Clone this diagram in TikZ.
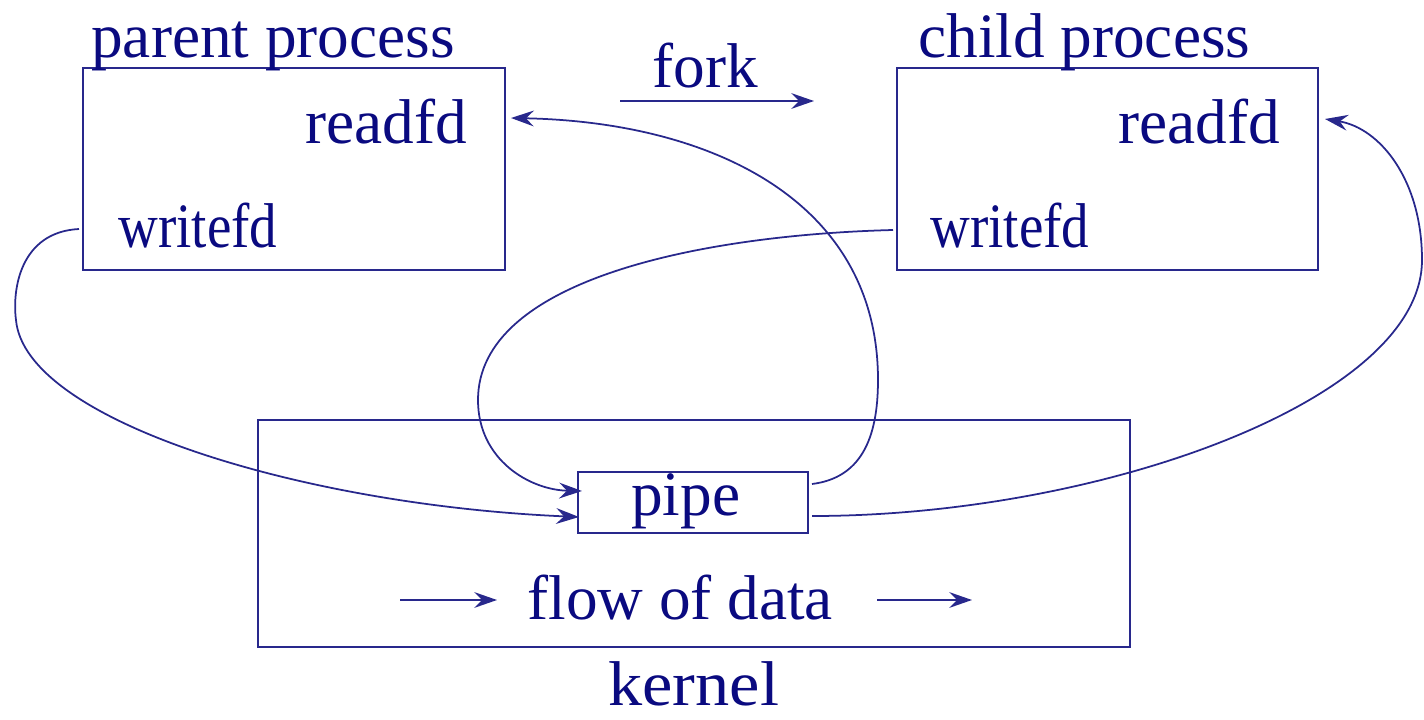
\documentclass[tikz,border=0pt]{standalone}
\usepackage{fontspec}
\setmainfont{Liberation Serif}
\usepackage{xcolor}
\usetikzlibrary{arrows.meta,positioning}
\definecolor{ink}{RGB}{10,10,128}
\definecolor{wire}{RGB}{40,40,140}

\begin{document}
\begin{tikzpicture}[
    x=0.02cm, y=-0.02cm,
    box/.style={draw=wire, line width=1.1pt, inner sep=0pt},
    lbl/.style={text=ink, inner sep=0pt, anchor=base west,
                font=\fontsize{36}{40}\selectfont},
    arrow/.style={-{Stealth[length=13pt,width=9pt,inset=4.5pt]}, draw=wire, line width=1.1pt},
    flow/.style={-{Stealth[length=13pt,width=9pt,inset=4.5pt]}, draw=wire, line width=1pt}
]
\useasboundingbox (0,0) rectangle (1424,720);

% boxes
\node[box, minimum width=8.44cm, minimum height=4.04cm] (parent) at (294,169) {};
\node[box, minimum width=8.42cm, minimum height=4.04cm] (child) at (1107.5,169) {};
\node[box, minimum width=17.44cm, minimum height=4.54cm] (kernel) at (694,533.5) {};
\node[box, minimum width=4.6cm, minimum height=1.22cm] (pipe) at (693,502.5) {};

% texts
\node[lbl] (plabel) at (91,57) {parent process};
\node[lbl] (clabel) at (918,57) {child process};
\node[lbl] (pread) at (305,143) {readfd};
\node[lbl] (pwrite) at (118,247) {\scalebox{0.87}[1]{writefd}};
\node[lbl] (cread) at (1118,143) {readfd};
\node[lbl] (cwrite) at (930,247) {\scalebox{0.87}[1]{writefd}};
\node[lbl] (fork) at (652,87) {fork};
\node[lbl] (pipetext) at (631,515) {pipe};
\node[lbl] (flowtext) at (527,619) {flow of data};
\node[lbl] (klabel) at (608,705) {\scalebox{1.08}[1]{kernel}};

% free ends
\coordinate (forkA) at (620,101);
\coordinate (forkB) at (814,101);
\coordinate (flowA) at (400,600);
\coordinate (flowB) at (497,600);
\coordinate (flowC) at (877,600);
\coordinate (flowD) at (972,600);
\coordinate (pwOut) at (79,229);
\coordinate (cwOut) at (893,230);
\coordinate (prIn) at (511,118);
\coordinate (crIn) at (1325,119);
\coordinate (pipeInA) at (582,491);
\coordinate (pipeInB) at (579,517);
\coordinate (pipeOutA) at (812,484);
\coordinate (pipeOutB) at (812,516);

\draw[arrow] (forkA) -- (forkB);
\draw[arrow] (flowA) -- (flowB);
\draw[arrow] (flowC) -- (flowD);

% descriptors into and out of the pipe
\draw[flow] (pwOut) .. controls (20,232) and (12,290) .. (16,320)
    .. controls (25,420) and (300,505) .. (pipeInB);
\draw[flow] (cwOut) .. controls (700,235) and (478,280) .. (478,400)
    .. controls (478,460) and (530,490) .. (pipeInA);
\draw[flow] (pipeOutA) .. controls (860,478) and (878,440) .. (878,380)
    .. controls (878,200) and (710,122) .. (prIn);
\draw[flow] (pipeOutB) .. controls (1100,516) and (1422,400) .. (1422,260)
    .. controls (1422,180) and (1380,128) .. (crIn);
\end{tikzpicture}
\end{document}
